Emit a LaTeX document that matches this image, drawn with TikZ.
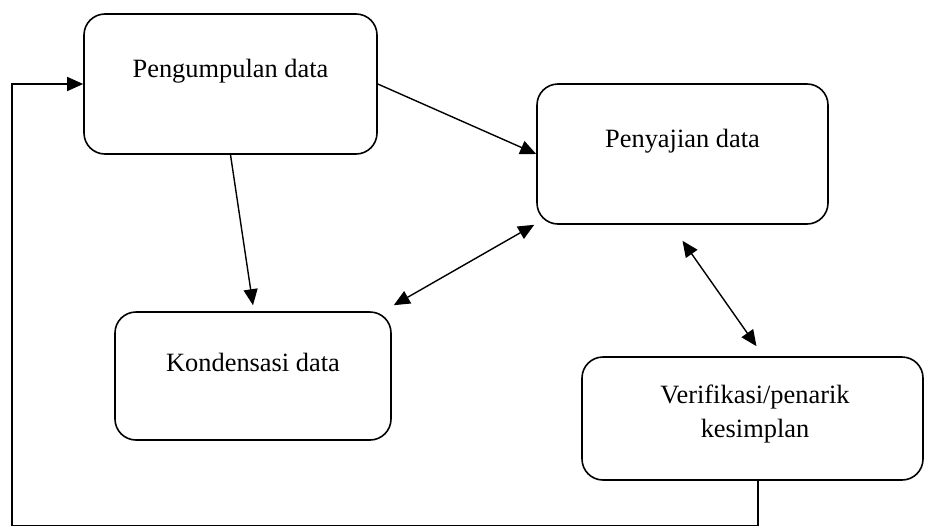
\documentclass[tikz,border=0pt]{standalone}
\usepackage{fontspec}
\setmainfont{Liberation Serif}
\usetikzlibrary{arrows.meta}
\begin{document}
\begin{tikzpicture}[x=1pt,y=-1pt,
  box/.style={draw, line width=1.6pt, rounded corners=21pt, inner sep=0pt},
  lbl/.style={font=\fontsize{26.4}{34}\selectfont, align=center, inner sep=0pt},
  conn/.style={line width=1.4pt},
  arr/.style={conn, -{Triangle[length=16pt,width=14pt]}},
  darr/.style={conn, {Triangle[length=16pt,width=14pt]}-{Triangle[length=16pt,width=14pt]}}]
\useasboundingbox (0,0) rectangle (925,525);
% boxes
\node[box, minimum width=293pt, minimum height=140pt] (b1) at (230.5,84) {};
\node[box, minimum width=291pt, minimum height=140pt] (b2) at (682.5,154) {};
\node[box, minimum width=276pt, minimum height=128pt] (b3) at (253,376) {};
\node[box, minimum width=341pt, minimum height=123pt] (b4) at (752.5,418.5) {};
% texts
\node[lbl] (t1) at (230.5,71) {Pengumpulan data};
\node[lbl] (t2) at (682.5,141) {Penyajian data};
\node[lbl] (t3) at (253,362) {Kondensasi data};
\node[lbl] (t4) at (755,414) {Verifikasi/penarik\\kesimplan};
% connectors
\draw[arr] (b1.east) -- (b2.west);
\draw[arr] (b1.south) -- ([yshift=6pt]b3.north);
\draw[darr] ([xshift=-2pt]b2.south west) -- ([xshift=2pt,yshift=6pt]b3.north east);
\draw[darr] ([yshift=-16pt]b2.south) -- ([xshift=4pt,yshift=10pt]b4.north);
\coordinate (c1) at (758,525.5);
\coordinate (c2) at (12,525.5);
\coordinate (c3) at (12,84);
\draw[arr] ([xshift=5.5pt]b4.south) -- (c1) -- (c2) -- (c3) -- (b1.west);
\end{tikzpicture}
\end{document}
